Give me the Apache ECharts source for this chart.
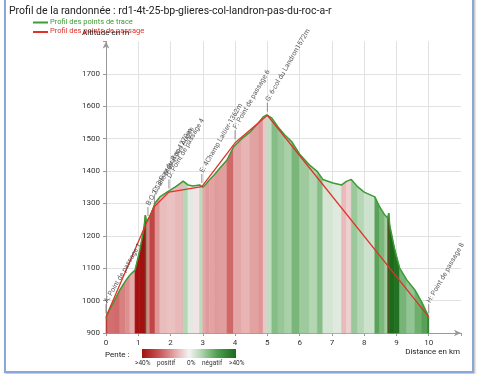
<!DOCTYPE html>
<html><head><meta charset="utf-8">
<script src="https://cdn.jsdelivr.net/npm/echarts@6/dist/echarts.min.js"></script>
<style>
html,body{margin:0;padding:0;background:#fff;}
#c{position:absolute;left:0;top:0;width:493px;height:374px;}
#frame{position:absolute;left:4px;top:-2px;width:466px;height:371px;border:2px solid #8ba7da;box-shadow:1px 1px 2px rgba(0,0,0,0.3);pointer-events:none;}
</style></head><body>
<div id="c"></div><div id="frame"></div>
<script>
// Trace profile (distance km, altitude m)
const traceKm  = [0.00,0.05,0.22,0.43,0.60,0.74,0.90,1.05,1.18,1.22,1.26,1.36,1.52,1.67,1.89,2.14,2.30,2.39,2.54,2.70,2.90,3.00,3.10,3.20,3.37,3.53,3.75,3.95,4.20,4.46,4.72,4.87,4.98,5.14,5.33,5.54,5.76,6.00,6.30,6.55,6.72,7.03,7.30,7.45,7.60,7.80,8.00,8.33,8.48,8.64,8.73,8.76,8.79,8.95,9.10,9.32,9.57,9.78,9.97,10.00];
const traceAlt = [945,960,992,1033,1060,1079,1094,1156,1227,1264,1243,1258,1301,1320,1335,1350,1362,1369,1357,1354,1357,1350,1360,1372,1390,1409,1434,1474,1499,1520,1548,1567,1573,1563,1536,1511,1490,1452,1419,1398,1374,1363,1357,1368,1374,1351,1335,1320,1289,1264,1255,1270,1233,1156,1100,1064,1033,996,956,945];
// Passage points
const passKm  = [0.00,1.30,1.50,1.95,2.97,4.00,5.00,10.00];
const passAlt = [950,1250,1290,1335,1352,1487,1572,950];
const passLabels = ['A: Point de passage 1','B:O 2:Salle Métral des Auges','C: 3-Pas du Roc-1270m','D: Point de passage 4','E: 4Champ Laitier-1362m','F: Point de passage 6','G: 6-col du Landron1572m','H: Point de passage 8'];
// Axis tick labels
const xTickLabels = ['0','1','2','3','4','5','6','7','8','9','10'];
const yTickLabels = ['900','1000','1100','1200','1300','1400','1500','1600','1700'];

const stops = [[-1,[27,107,27]],[-0.6,[80,158,80]],[-0.25,[182,216,182]],[0,[243,243,243]],[0.25,[233,182,182]],[0.6,[204,92,92]],[1,[163,16,16]]];
function slopeColor(s){
  let t = Math.min(Math.abs(s)/0.4,1); t = Math.pow(t,0.85)*(s<0?-1:1);
  for(let i=0;i<stops.length-1;i++){
    const a=stops[i],b=stops[i+1];
    if(t>=a[0]&&t<=b[0]){const f=(t-a[0])/(b[0]-a[0]);
      const c=a[1].map((v,k)=>Math.round(v+(b[1][k]-v)*f));return 'rgb('+c.join(',')+')';}
  }
  return '#f3f3f3';
}
const segs=[];
for(let i=0;i<traceKm.length-1;i++){
  const dx=(traceKm[i+1]-traceKm[i])*1000, dy=traceAlt[i+1]-traceAlt[i];
  segs.push([traceKm[i],traceAlt[i],traceKm[i+1],traceAlt[i+1],dy/dx]);
}
const tracePts = traceKm.map((x,i)=>[x,traceAlt[i]]);
const passPts = passKm.map((x,i)=>({value:[x,passAlt[i]],name:passLabels[i]}));

const chart = echarts.init(document.getElementById('c'),null,{renderer:'canvas'});
const F='Roboto, sans-serif';
chart.setOption({
  animation:false,
  backgroundColor:'#fff',
  grid:{left:106,right:32,top:41.4,bottom:41,containLabel:false},
  xAxis:{type:'value',min:0,max:11,interval:1,
    axisLine:{lineStyle:{color:'#999',width:1},symbol:['none','arrow'],symbolSize:[5,7]},
    axisTick:{show:true,length:3,lineStyle:{color:'#999'}},
    axisLabel:{fontSize:8,color:'#333',fontFamily:F,margin:6,formatter:v=>{const i=Math.round(v);return (i<xTickLabels.length&&Math.abs(v-i)<1e-6)?xTickLabels[i]:'';}},
    splitLine:{show:true,showMinLine:false,showMaxLine:false,lineStyle:{color:'#e2e2e2',width:1}}},
  yAxis:{type:'value',min:900,max:1800,interval:100,
    axisLine:{show:true,lineStyle:{color:'#999',width:1},symbol:['none','arrow'],symbolSize:[5,7]},
    axisTick:{show:true,length:3,lineStyle:{color:'#999'}},
    axisLabel:{fontSize:8,color:'#333',fontFamily:F,margin:6,formatter:v=>{const i=Math.round((v-900)/100);return (i>=0&&i<yTickLabels.length)?yTickLabels[i]:'';}},
    splitLine:{show:true,showMinLine:false,showMaxLine:false,lineStyle:{color:'#e2e2e2',width:1}}},
  series:[
    {type:'custom',data:segs,z:1,silent:true,
     renderItem:function(params,api){
       const p0=api.coord([api.value(0),api.value(1)]), p1=api.coord([api.value(2),api.value(3)]);
       const b0=api.coord([api.value(0),900]), b1=api.coord([api.value(2),900]);
       const col=slopeColor(api.value(4));
       return {type:'polygon',shape:{points:[p0,p1,b1,b0]},style:{fill:col,stroke:col,lineWidth:0.6}};
     }},
    {type:'line',data:tracePts,z:3,symbol:'none',lineStyle:{color:'#3c9c34',width:1.5},silent:true},
    {type:'line',data:passPts.map(p=>p.value),z:4,symbol:'none',lineStyle:{color:'#e0322a',width:1.3},silent:true},
    {type:'scatter',data:passPts,z:5,symbol:'rect',symbolSize:[1,9],symbolOffset:[0,-8],
     itemStyle:{color:'#777'},silent:true,
     label:{show:true,formatter:p=>p.name,position:'top',distance:2,rotate:60,align:'left',verticalAlign:'middle',fontSize:7,fontFamily:F,color:'#333'}}
  ],
  graphic:[
    {type:'text',left:9,top:6,style:{text:'Profil de la randonnée : rd1-4t-25-bp-glieres-col-landron-pas-du-roc-a-r',font:'10.5px '+F,fill:'#222'}},
    {type:'line',shape:{x1:33,y1:22.5,x2:48,y2:22.5},style:{stroke:'#3c9c34',lineWidth:2}},
    {type:'text',left:50,top:18,style:{text:'Profil des points de trace',font:'7.5px '+F,fill:'#3c9c34'}},
    {type:'line',shape:{x1:33,y1:32,x2:48,y2:32},style:{stroke:'#e0322a',lineWidth:2}},
    {type:'text',left:50,top:27.5,style:{text:'Profil des points de passage',font:'7.5px '+F,fill:'#e0322a'}},
    {type:'text',left:82,top:28.5,style:{text:'Altitude en m',font:'8px '+F,fill:'#222'}},
    {type:'text',right:33,top:348,style:{text:'Distance en km',font:'8px '+F,fill:'#222'}},
    {type:'text',left:105,top:351,style:{text:'Pente :',font:'8px '+F,fill:'#222'}},
    {type:'rect',shape:{x:142,y:349,width:94,height:9},style:{fill:new echarts.graphic.LinearGradient(0,0,1,0,[
      {offset:0,color:'#a31010'},{offset:0.2,color:'#cc5c5c'},{offset:0.38,color:'#e9b6b6'},{offset:0.5,color:'#f3f3f3'},{offset:0.62,color:'#b6d8b6'},{offset:0.8,color:'#509e50'},{offset:1,color:'#1b6b1b'}])}},
    {type:'text',left:135,top:360,style:{text:'>40%',font:'6.5px '+F,fill:'#333'}},
    {type:'text',left:157,top:360,style:{text:'positif',font:'6.5px '+F,fill:'#333'}},
    {type:'text',left:187,top:360,style:{text:'0%',font:'6.5px '+F,fill:'#333'}},
    {type:'text',left:202,top:360,style:{text:'négatif',font:'6.5px '+F,fill:'#333'}},
    {type:'text',left:229,top:360,style:{text:'>40%',font:'6.5px '+F,fill:'#333'}}
  ]
});
</script></body></html>
